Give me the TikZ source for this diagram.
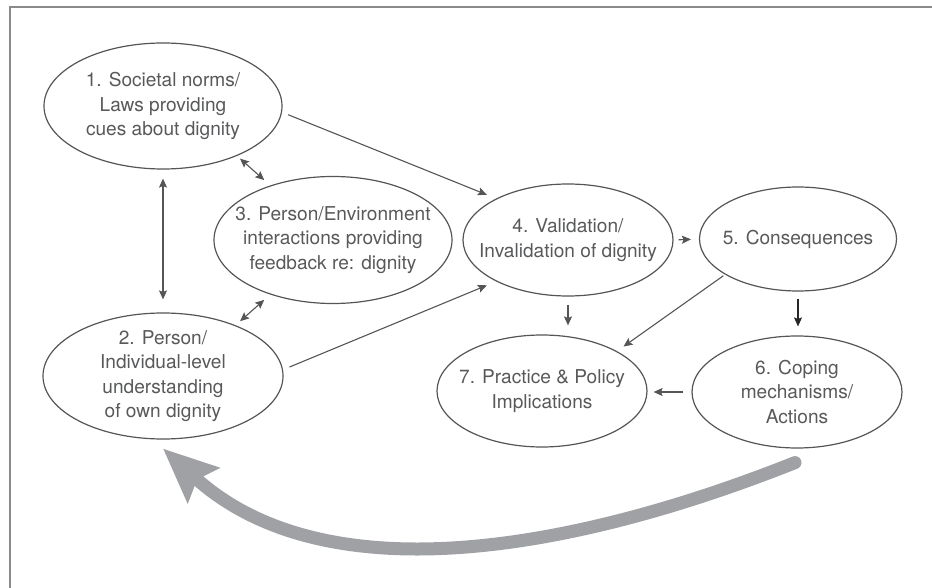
\documentclass[tikz,border=0pt]{standalone}
\usepackage{fontspec}
\setmainfont{TeX Gyre Heros}
\usetikzlibrary{arrows.meta,calc,shapes.geometric}
\definecolor{txtgrey}{HTML}{58595B}
\definecolor{linegrey}{HTML}{555555}
\definecolor{framegrey}{HTML}{8A8A8A}
\definecolor{loopgrey}{HTML}{A0A1A4}
\begin{document}
\begin{tikzpicture}[x=0.5pt,y=-0.5pt,
  stage/.style={ellipse,draw=linegrey,line width=0.6pt,inner sep=-14pt,
    align=center,text=txtgrey,font=\fontsize{9.55}{12.25}\selectfont},
  link/.style={draw=linegrey,line width=0.55pt,
    -{Stealth[length=4.5pt,width=4pt,inset=0.8pt]}},
  twoway/.style={draw=linegrey,line width=0.55pt,
    {Stealth[length=4.5pt,width=4pt,inset=0.8pt]}-{Stealth[length=4.5pt,width=4pt,inset=0.8pt]}},
  feedback/.style={draw=loopgrey,line width=6.5pt,line cap=round,
    -{Stealth[length=27pt,width=23pt,inset=4pt]}}]

\useasboundingbox (0,0) rectangle (932,588);
% partial frame: top and left edges
\draw[framegrey,line width=0.75pt] (932,7) -- (10,7) -- (10,588);

% stages
\node[stage,minimum width=119pt,minimum height=63pt] (e1) at (163,106)
  {1. Societal norms/\\Laws providing\\cues about dignity};
\node[stage,minimum width=120pt,minimum height=63pt] (e2) at (163,376)
  {2. Person/\\Individual-level\\understanding\\of own dignity};
\node[stage,minimum width=119pt,minimum height=63.5pt] (e3) at (333,240)
  {3. Person/Environment\\interactions providing\\feedback re: dignity};
\node[stage,minimum width=105pt,minimum height=56pt] (e4) at (568,240)
  {4. Validation/\\Invalidation of dignity};
\node[stage,minimum width=98.5pt,minimum height=52pt] (e5) at (798,239)
  {5. Consequences};
\node[stage,minimum width=105pt,minimum height=56pt] (e6) at (797,392)
  {6. Coping\\mechanisms/\\Actions};
\node[stage,minimum width=105pt,minimum height=56pt] (e7) at (542,391)
  {7. Practice \& Policy\\Implications};

% two-way links
\draw[twoway,shorten <=2pt,shorten >=4pt] (e1.-34) -- (e3.139);
\draw[twoway,shorten <=4pt,shorten >=3pt] (e3.-139) -- (e2.35);
\draw[twoway,shorten <=4.5pt,shorten >=6.5pt] (e1.south) -- (e2.north);

% one-way links
\draw[link,shorten <=3.3pt,shorten >=5pt] (e1.-3) -- (e4.150);
\draw[link,shorten <=3.5pt,shorten >=5pt] (e2.3) -- (e4.-150);
\draw[link,shorten <=2.5pt,shorten >=4pt] (e4.east) -- (e5.west);
\draw[link,shorten <=4pt,shorten >=4.5pt] (e4.south) -- (e4.south |- e7.north);
\draw[link,shorten <=1pt,shorten >=4pt] (e5.-154) -- (e7.28);
\draw[link,draw=black!85,shorten <=3.5pt,shorten >=4.5pt] (e5.south) -- (e5.south |- e6.north);
\draw[link,shorten <=4pt,shorten >=3pt] (e6.west) -- (e6.west -| e7.east);

% feedback loop back to stage 2
\draw[feedback] ($(e6.south)+(-2,14)$) .. controls (588,545) and (330,600) .. ($(e2.south)+(0,9)$);
\end{tikzpicture}
\end{document}
